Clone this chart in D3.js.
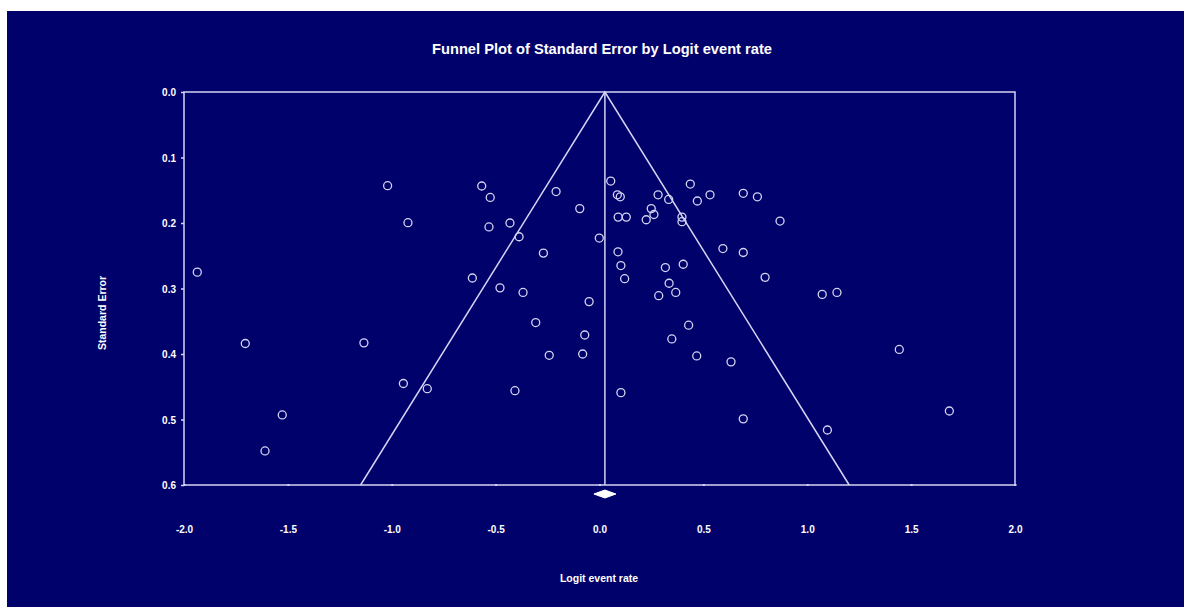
<!DOCTYPE html>
<html>
<head>
<meta charset="utf-8">
<script src="https://cdn.jsdelivr.net/npm/d3@7/dist/d3.min.js"></script>
<style>
  html, body { margin: 0; padding: 0; background: #ffffff; }
  svg { display: block; }
  text { font-family: "Liberation Sans", Arial, sans-serif; font-weight: bold; fill: #ffffff; }
</style>
</head>
<body>
<svg id="chart" width="1184" height="607"></svg>
<script>
// Study estimates: logit event rate and its standard error
const logitRate = [
  -1.02, -0.922, -1.936, -1.705, -1.134, -0.944, -0.829, -1.527, -1.61,
  -0.567, -0.526, -0.209, -0.095, 0.054, 0.086, 0.100, 0.282, 0.333, 0.437,
  0.532, 0.471, 0.249, 0.262, 0.225, 0.090, 0.129, 0.397, 0.397,
  -0.532, -0.431, -0.387, -0.001, -0.270, 0.089, 0.103, 0.121, 0.317, 0.403,
  -0.612, -0.479, -0.368, -0.050, 0.335, 0.367, 0.285,
  0.692, 0.760, 0.869, 0.594, 0.692, 0.797, 1.072, 1.143,
  -0.307, -0.071, -0.242, -0.081, -0.407, 0.103, 0.429, 0.348, 0.468,
  0.633, 0.692, 1.097, 1.443, 1.684
];
const stdError = [
  0.143, 0.1995, 0.275, 0.384, 0.383, 0.445, 0.453, 0.493, 0.548,
  0.1435, 0.161, 0.152, 0.178, 0.136, 0.157, 0.160, 0.157, 0.164, 0.1405,
  0.157, 0.1664, 0.178, 0.187, 0.195, 0.191, 0.191, 0.191, 0.198,
  0.206, 0.200, 0.221, 0.223, 0.246, 0.244, 0.265, 0.285, 0.268, 0.263,
  0.284, 0.299, 0.306, 0.320, 0.292, 0.306, 0.311,
  0.1547, 0.160, 0.197, 0.239, 0.245, 0.283, 0.309, 0.306,
  0.352, 0.371, 0.402, 0.400, 0.456, 0.459, 0.356, 0.377, 0.403,
  0.412, 0.499, 0.516, 0.393, 0.487
];

// Combined estimate and its confidence interval (diamond)
const pooledEstimate = 0.026;
const pooledLower = -0.027;
const pooledUpper = 0.079;
const zCrit = 1.96;

const xTicks = [-2.0, -1.5, -1.0, -0.5, 0.0, 0.5, 1.0, 1.5, 2.0];
const yTicks = [0.0, 0.1, 0.2, 0.3, 0.4, 0.5, 0.6];

const titleText = "Funnel Plot of Standard Error by Logit event rate";
const xTitle = "Logit event rate";
const yTitle = "Standard Error";

const lineColor = "#d4d4f4";

// One decimal, plain hyphen for negatives
const fmt = d => d.toFixed(1);

const svg = d3.select("#chart");

// Navy panel
svg.append("rect")
  .attr("x", 7).attr("y", 11)
  .attr("width", 1184 - 7).attr("height", 607 - 11)
  .attr("fill", "#01016b");

const plot = { left: 184, right: 1015, top: 92, bottom: 485 };

const x = d3.scaleLinear().domain([-2, 2]).range([plot.left, plot.right]);
const y = d3.scaleLinear().domain([0, 0.6]).range([plot.top, plot.bottom]);

// Title
svg.append("text")
  .attr("x", 602).attr("y", 54)
  .attr("text-anchor", "middle")
  .attr("font-size", 14.5)
  .attr("textLength", 340)
  .attr("lengthAdjust", "spacingAndGlyphs")
  .text(titleText);

// Plot frame
svg.append("rect")
  .attr("x", plot.left).attr("y", plot.top)
  .attr("width", plot.right - plot.left).attr("height", plot.bottom - plot.top)
  .attr("fill", "none")
  .attr("stroke", lineColor)
  .attr("stroke-width", 1.5);

// Y axis ticks and labels
const yAxis = d3.axisLeft(y).tickValues(yTicks).tickFormat(fmt).tickSize(3).tickPadding(6);
const gy = svg.append("g").attr("transform", `translate(${plot.left},0)`).call(yAxis);
gy.select(".domain").remove();
gy.selectAll(".tick line").attr("stroke", lineColor).attr("stroke-width", 1.5);
gy.selectAll(".tick text").attr("font-size", 10).attr("fill", "#ffffff").attr("dy", "0.35em").attr("x", -8);

// X axis ticks (small marks on the baseline) and labels further below
const xAxis = d3.axisBottom(x).tickValues(xTicks).tickFormat(fmt).tickSize(2).tickPadding(40);
const gx = svg.append("g").attr("transform", `translate(0,${plot.bottom - 1})`).call(xAxis);
gx.select(".domain").remove();
gx.selectAll(".tick line").attr("stroke", lineColor).attr("stroke-width", 2);
gx.selectAll(".tick text").attr("font-size", 10).attr("fill", "#ffffff");

// Axis titles
svg.append("text")
  .attr("x", 599).attr("y", 582)
  .attr("text-anchor", "middle")
  .attr("font-size", 10.5)
  .text(xTitle);

svg.append("text")
  .attr("transform", `translate(106,313) rotate(-90)`)
  .attr("text-anchor", "middle")
  .attr("font-size", 10.5)
  .text(yTitle);

// Funnel: pseudo 95% limits around the pooled estimate
const seMax = 0.6;
const funnel = [
  [pooledEstimate - zCrit * seMax, seMax],
  [pooledEstimate, 0],
  [pooledEstimate + zCrit * seMax, seMax]
];
svg.append("path")
  .attr("d", d3.line().x(d => x(d[0])).y(d => y(d[1]))(funnel))
  .attr("fill", "none")
  .attr("stroke", lineColor)
  .attr("stroke-width", 1.5);

// Vertical line at the pooled estimate
svg.append("line")
  .attr("x1", x(pooledEstimate)).attr("x2", x(pooledEstimate))
  .attr("y1", y(0)).attr("y2", y(seMax))
  .attr("stroke", lineColor)
  .attr("stroke-width", 1.5);

// Study points
const studies = logitRate.map((v, i) => ({ x: v, se: stdError[i] }));
svg.append("g")
  .selectAll("circle")
  .data(studies)
  .join("circle")
  .attr("cx", d => x(d.x))
  .attr("cy", d => y(d.se))
  .attr("r", 4)
  .attr("fill", "none")
  .attr("stroke", lineColor)
  .attr("stroke-width", 1.3);

// Diamond for the combined estimate
const dy = plot.bottom + 9;
const diamond = [
  [x(pooledLower), dy],
  [x(pooledEstimate), dy - 4],
  [x(pooledUpper), dy],
  [x(pooledEstimate), dy + 4]
];
svg.append("polygon")
  .attr("points", diamond.map(p => p.join(",")).join(" "))
  .attr("fill", "#ffffff")
  .attr("stroke", "#ffffff")
  .attr("stroke-width", 1);
</script>
</body>
</html>
